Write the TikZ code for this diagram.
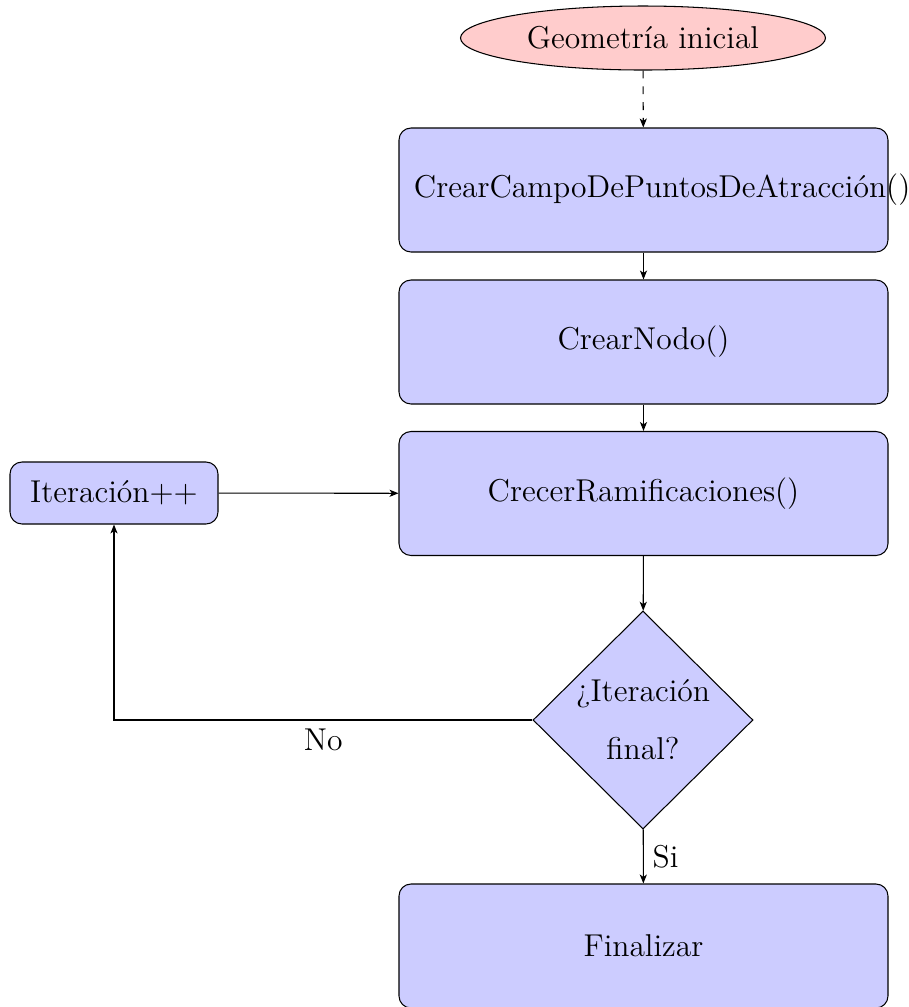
\documentclass[tikz,border=0pt]{standalone}
\usepackage{fontspec}
\usetikzlibrary{shapes.geometric,arrows.meta}
\newdimen\pxu
\pxu=0.380pt
\begin{document}
\begin{tikzpicture}[
  x=\pxu, y=-\pxu,
  font=\fontsize{12}{14.5}\selectfont,
  >={Stealth[length=3.4pt,width=2.7pt,inset=0.9pt]},
  startnode/.style={ellipse, draw, fill=red!20, minimum width=365*\pxu, minimum height=64*\pxu, inner sep=0pt},
  procbox/.style={rectangle, rounded corners=12*\pxu, draw, fill=blue!20,
    minimum width=489*\pxu, minimum height=124*\pxu, text width=459*\pxu, align=center, inner xsep=15*\pxu},
  iterbox/.style={rectangle, rounded corners=12*\pxu, draw, fill=blue!20,
    minimum width=208*\pxu, minimum height=62*\pxu, inner sep=0pt},
  decision/.style={diamond, draw, fill=blue!20, minimum width=220*\pxu, minimum height=218*\pxu, inner sep=0pt},
  flow/.style={->}
]
\useasboundingbox (0,0) rectangle (908,1007);

% nodes of the flowchart
\node[startnode] (geo) at (643,38) {Geometría inicial};
\node[procbox] (campo) at (643.5,190) {CrearCampoDePuntosDeAtracción()};
\node[procbox] (nodo) at (643.5,342) {CrearNodo()};
\node[procbox] (crecer) at (643.5,493.5) {CrecerRamificaciones()};
\node[iterbox] (iter) at (114,493) {Iteración++};
\node[decision, label={[align=center]center:¿Iteración\\[20\pxu]final?}] (dec) at (643,720) {};
\node[procbox] (fin) at (643.5,946) {Finalizar};

% connectors
\draw[flow, dashed] (geo) -- (campo);
\draw[flow] (campo) -- (nodo);
\draw[flow] (nodo) -- (crecer);
\draw[flow] (crecer) -- (dec);
\draw[flow] (iter) -- (crecer);
\draw[flow] (dec.west) -| node[pos=0.25, below, inner sep=8*\pxu] {No} (iter.south);
\draw[flow] (dec) -- node[right] {Si} (fin);
\end{tikzpicture}
\end{document}
